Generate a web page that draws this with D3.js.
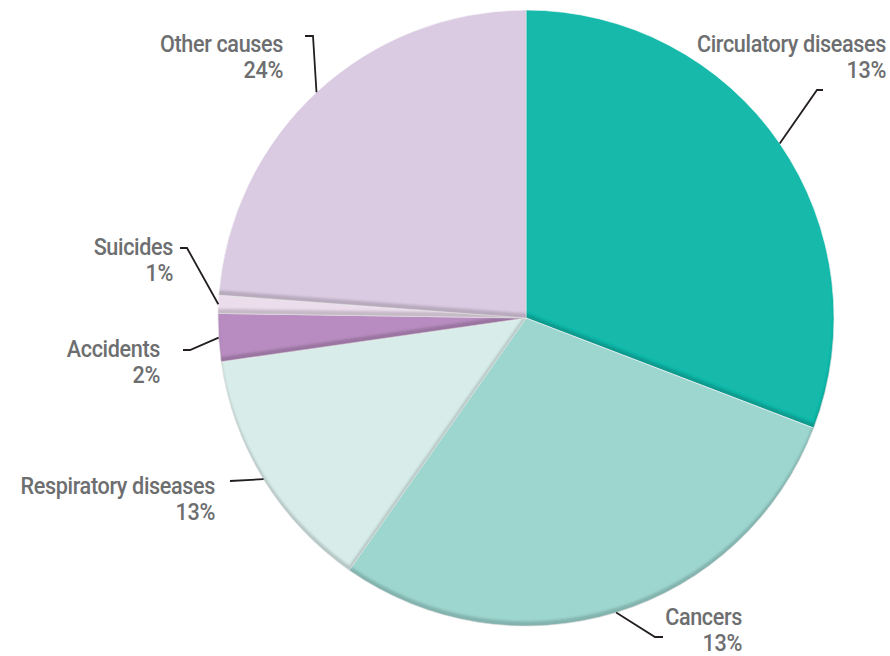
<!DOCTYPE html>
<html>
<head>
<meta charset="utf-8">
<script src="https://cdn.jsdelivr.net/npm/d3@7/dist/d3.min.js"></script>
<style>
  html, body { margin: 0; padding: 0; background: #fff; }
  svg { display: block; }
  .lbl { font-family: Roboto, "Liberation Sans", sans-serif; font-size: 24px; font-weight: 500; letter-spacing: -0.4px; fill: #6d6e70; }
</style>
</head>
<body>
<svg id="chart" width="890" height="656"></svg>
<script>
// Causes of death, clockwise from 12 o'clock
const causes = ["Circulatory diseases", "Cancers", "Respiratory diseases", "Accidents", "Suicides", "Other causes"];
const shares = [30.8, 28.9, 13.0, 2.5, 0.95, 23.8];
const shareLabels = ["13%", "13%", "13%", "2%", "1%", "24%"];
const colors = ["#16b9aa", "#9dd5cf", "#d8edea", "#b88cc0", "#ecdded", "#dbcbe2"];

// Label placement: elbow of the leader, end of its short tick, right edge and first baseline of the text
const labelLayout = [
  { elbow: [817, 90],  tick: 823, textX: 886, textY: 52 },
  { elbow: [655, 637], tick: 663, textX: 742, textY: 625 },
  { elbow: [230, 481], tick: 230, textX: 215, textY: 494 },
  { elbow: [190, 350], tick: 183, textX: 160, textY: 357 },
  { elbow: [187, 248], tick: 180, textX: 173, textY: 255 },
  { elbow: [313, 36],  tick: 305, textX: 283, textY: 52 }
];

const cx = 526, cy = 318, radius = 308;
const condense = 0.9;   // horizontal squeeze for the condensed label face
const svg = d3.select("#chart");

// Inner shadow along the lower edges of each slice
const defs = svg.append("defs");
const f = defs.append("filter").attr("id", "bevel")
  .attr("x", "-5%").attr("y", "-5%").attr("width", "110%").attr("height", "110%");
f.append("feOffset").attr("in", "SourceAlpha").attr("dx", -0.5).attr("dy", -5).attr("result", "off");
f.append("feGaussianBlur").attr("in", "off").attr("stdDeviation", 1).attr("result", "blur");
f.append("feComposite").attr("in", "SourceAlpha").attr("in2", "blur").attr("operator", "out").attr("result", "edge");
f.append("feFlood").attr("flood-color", "#000").attr("flood-opacity", 0.32).attr("result", "col");
f.append("feComposite").attr("in", "col").attr("in2", "edge").attr("operator", "in").attr("result", "shadow");
const merge = f.append("feMerge");
merge.append("feMergeNode").attr("in", "SourceGraphic");
merge.append("feMergeNode").attr("in", "shadow");

const data = causes.map((c, i) => ({ cause: c, value: shares[i], label: shareLabels[i], color: colors[i], layout: labelLayout[i] }));

const pie = d3.pie().value(d => d.value).sort(null);
const arcs = pie(data);
const arc = d3.arc().innerRadius(0).outerRadius(radius);

const g = svg.append("g").attr("transform", `translate(${cx},${cy})`);
g.selectAll("path.slice")
  .data(arcs)
  .join("path")
  .attr("class", "slice")
  .attr("d", arc)
  .attr("fill", d => d.data.color)
  .attr("stroke", "#fff")
  .attr("stroke-width", 0.6)
  .attr("filter", "url(#bevel)");

// Leader lines from the slice edge at its mid-angle
svg.selectAll("polyline.leader")
  .data(arcs)
  .join("polyline")
  .attr("class", "leader")
  .attr("fill", "none")
  .attr("stroke", "#231f20")
  .attr("stroke-width", 1.8)
  .attr("points", d => {
    const a = (d.startAngle + d.endAngle) / 2;
    const ex = cx + radius * Math.sin(a), ey = cy - radius * Math.cos(a);
    const L = d.data.layout;
    return [[ex, ey], L.elbow, [L.tick, L.elbow[1]]].map(p => p.join(",")).join(" ");
  });

// Labels: name and share, right-aligned
const labels = svg.selectAll("text.lbl")
  .data(arcs)
  .join("text")
  .attr("class", "lbl")
  .attr("text-anchor", "end")
  .attr("transform", d => `translate(${d.data.layout.textX},${d.data.layout.textY}) scale(${condense},1)`);
labels.append("tspan")
  .attr("x", 0)
  .attr("y", 0)
  .text(d => d.data.cause);
labels.append("tspan")
  .attr("x", 0)
  .attr("y", 26)
  .text(d => d.data.label);
</script>
</body>
</html>
